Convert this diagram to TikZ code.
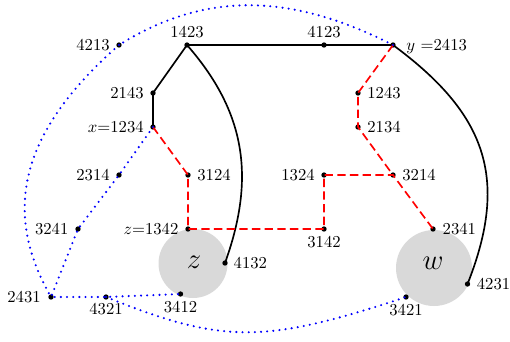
\documentclass[tikz,border=0pt]{standalone}
\begin{document}
\begin{tikzpicture}[x=0.6pt,y=-0.6pt,
  dotmark/.style={fill=black},
  lbl/.style={inner sep=0pt,text height=6.44pt,text depth=0pt,font=\fontsize{10}{12}\selectfont},
  big/.style={inner sep=0pt,font=\fontsize{16}{18}\selectfont},
  blk/.style={draw=black,line width=1pt},
  rdash/.style={draw=red,line width=1pt,dash pattern=on 5pt off 2.6pt},
  bdot/.style={draw=blue,line width=1.4pt,line cap=round,dash pattern=on 0pt off 3.7pt},
  zone/.style={fill=black!15}]
\useasboundingbox (0,0) rectangle (510,341);
% vertices
\coordinate (p1423) at (187,45);
\coordinate (p4123) at (324,45);
\coordinate (p2413) at (393,45);
\coordinate (p4213) at (119,45);
\coordinate (p2143) at (153,93);
\coordinate (p1234) at (153,127);
\coordinate (p3124) at (188,175);
\coordinate (p2314) at (119,175);
\coordinate (p3241) at (78,229);
\coordinate (p1342) at (188,229);
\coordinate (p4132) at (225,263);
\coordinate (p2431) at (51,297);
\coordinate (p4321) at (106,297);
\coordinate (p3412) at (180.5,294);
\coordinate (p1243) at (358,93);
\coordinate (p2134) at (358,127);
\coordinate (p1324) at (324,175);
\coordinate (p3214) at (393,175);
\coordinate (p3142) at (324,229);
\coordinate (p2341) at (433,229);
\coordinate (p4231) at (467.5,284);
\coordinate (p3421) at (406,297);
% gray zones
\fill[zone] (193,263.5) circle[radius=34.5];
\fill[zone] (434,268) circle[radius=38];
\node[big] (zl) at (194,262.5) {$z$};
\node[big] (wl) at (433,263) {$w$};
% dots
\foreach \p in {p1423,p4123,p2413,p4213,p2143,p1234,p3124,p2314,p3241,p1342,p4132,p2431,p4321,p3412,p1243,p2134,p1324,p3214,p3142,p2341,p4231,p3421}
  \fill[dotmark] (\p) circle[radius=1.6pt];
% black edges
\draw[blk] (p1423) -- (p4123) -- (p2413);
\draw[blk] (p1423) -- (p2143) -- (p1234);
\draw[blk] (p1423) .. controls +(59,67.5) and +(30.6,-85) .. (p4132);
\draw[blk] (p2413) .. controls +(92,68) and +(42.5,-107) .. (p4231);
% red edges
\draw[rdash] (p1234) -- (p3124) -- (p1342) -- (p3142) -- (p1324) -- (p3214) -- (p2341);
\draw[rdash] (p2413) -- (p1243) -- (p2134) -- (p3214);
% blue edges
\draw[bdot] (p2413) .. controls +(-104,-53) and +(85,-53) .. (p4213);
\draw[bdot] (p4213) .. controls +(-97.5,85.8) and +(-50,-87) .. (p2431);
\draw[bdot] (p1234) -- (p2314) -- (p3241) -- (p2431) -- (p4321) -- (p3412);
\draw[bdot] (p4321) .. controls +(117,47) and +(-142,47) .. (p3421);
% labels
\node[lbl,above=4.6pt] (l1423) at (p1423) {1423};
\node[lbl,above=4.6pt] (l4123) at (p4123) {4123};
\node[lbl,right=7.8pt] (l2413) at (p2413) {$y$ =2413};
\node[lbl,left=5.4pt] (l4213) at (p4213) {4213};
\node[lbl,left=5.4pt] (l2143) at (p2143) {2143};
\node[lbl,left=5.4pt] (l1234) at (p1234) {$x$=1234};
\node[lbl,right=5.4pt] (l3124) at (p3124) {3124};
\node[lbl,left=5.4pt] (l2314) at (p2314) {2314};
\node[lbl,left=5.6pt] (l3241) at (p3241) {3241};
\node[lbl,left=5.6pt] (l1342) at (p1342) {$z$=1342};
\node[lbl,right=5pt] (l4132) at (p4132) {4132};
\node[lbl,left=6pt] (l2431) at (p2431) {2431};
\node[lbl,below=3.6pt] (l4321) at (p4321) {4321};
\node[lbl,below=4.4pt] (l3412) at (p3412) {3412};
\node[lbl,right=5.4pt] (l1243) at (p1243) {1243};
\node[lbl,right=5.4pt] (l2134) at (p2134) {2134};
\node[lbl,left=5.4pt] (l1324) at (p1324) {1324};
\node[lbl,right=5.4pt] (l3214) at (p3214) {3214};
\node[lbl,below=4.6pt] (l3142) at (p3142) {3142};
\node[lbl,right=5.6pt] (l2341) at (p2341) {2341};
\node[lbl,right=5.4pt] (l4231) at (p4231) {4231};
\node[lbl,below=4.6pt] (l3421) at (p3421) {3421};
\end{tikzpicture}
\end{document}
